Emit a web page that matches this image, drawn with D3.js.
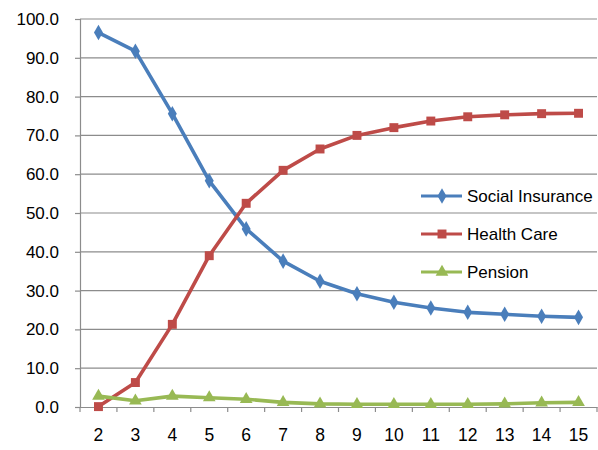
<!DOCTYPE html>
<html><head><meta charset="utf-8">
<script src="https://cdn.jsdelivr.net/npm/d3@7"></script>
<style>body{margin:0;background:#fff;} svg{display:block;}</style>
</head><body>
<svg id="c" width="598" height="450"></svg>
<script>
const categories = [2,3,4,5,6,7,8,9,10,11,12,13,14,15];
const socialInsurance = [96.5,91.7,75.6,58.3,45.9,37.6,32.4,29.2,27.0,25.5,24.4,23.9,23.4,23.1];
const healthCare = [0.1,6.3,21.3,39.0,52.5,61.0,66.5,70.0,72.0,73.7,74.8,75.3,75.6,75.7];
const pension = [2.8,1.6,2.8,2.4,2.0,1.2,0.8,0.7,0.7,0.7,0.7,0.8,1.1,1.2];
const yTicks = [0,10,20,30,40,50,60,70,80,90,100];
const seriesNames = ["Social Insurance","Health Care","Pension"];

const svg = d3.select("#c");
const L = 80, R = 597, T = 19, B = 407;
const x = d3.scaleBand().domain(categories).range([L, R]);
const y = d3.scaleLinear().domain([0,100]).range([B, T]);
const font = "Liberation Sans, Arial, sans-serif";

// gridlines
svg.append("g").selectAll("line").data(yTicks.filter(d=>d>0)).join("line")
  .attr("x1", L).attr("x2", R).attr("y1", d=>y(d)).attr("y2", d=>y(d))
  .attr("stroke", "#8c8c8c").attr("stroke-width", 1.2);

// y axis
const ya = svg.append("g").attr("transform", `translate(${L},0)`)
  .call(d3.axisLeft(y).tickValues(yTicks).tickFormat(d3.format(".1f")).tickSize(5).tickPadding(16));
ya.select(".domain").attr("stroke", "#8c8c8c").attr("stroke-width", 1.2);
ya.selectAll(".tick line").attr("stroke", "#8c8c8c").attr("stroke-width", 1.2);
ya.selectAll("text").attr("font-family", font).attr("font-size", 17).attr("fill", "#000");

// x axis
const xa = svg.append("g").attr("transform", `translate(0,${B})`)
  .call(d3.axisBottom(x).tickSize(0).tickPadding(22));
xa.select(".domain").attr("stroke", "#8c8c8c").attr("stroke-width", 1.2);
xa.selectAll("text").attr("font-family", font).attr("font-size", 17.5).attr("fill", "#000");
const bounds = categories.map(c => x(c)).concat([R]);
xa.selectAll(".bt").data(bounds).join("line").attr("class","bt")
  .attr("x1", d=>d).attr("x2", d=>d).attr("y1", 0).attr("y2", 5)
  .attr("stroke", "#8c8c8c").attr("stroke-width", 1.2);

const cx = c => x(c) + x.bandwidth()/2;
const series = [
  {name: seriesNames[0], values: socialInsurance, color: "#4a7ebb", sym: d3.symbolDiamond, size: 70},
  {name: seriesNames[1], values: healthCare, color: "#be4b48", sym: d3.symbolSquare, size: 80},
  {name: seriesNames[2], values: pension, color: "#98b954", sym: d3.symbolTriangle, size: 70}
];
const line = d3.line().x((d,i)=>cx(categories[i])).y(d=>y(d));

series.forEach(s => {
  svg.append("path").datum(s.values).attr("d", line)
    .attr("fill","none").attr("stroke", s.color).attr("stroke-width", 3.6).attr("stroke-linejoin","round");
  svg.append("g").selectAll("path").data(s.values).join("path")
    .attr("transform", (d,i)=>`translate(${cx(categories[i])},${y(d)})`)
    .attr("d", d3.symbol().type(s.sym).size(s.size)).attr("fill", s.color);
});

// legend
const lg = svg.append("g");
series.forEach((s,i) => {
  const ly = 196 + i*38;
  lg.append("line").attr("x1", 421).attr("x2", 462).attr("y1", ly).attr("y2", ly)
    .attr("stroke", s.color).attr("stroke-width", 3.2);
  lg.append("path").attr("transform", `translate(442,${ly})`)
    .attr("d", d3.symbol().type(s.sym).size(s.size)).attr("fill", s.color);
  lg.append("text").attr("x", 467).attr("y", ly).attr("dy", "0.35em")
    .attr("font-family", font).attr("font-size", 17).attr("fill", "#000").text(s.name);
});
</script>
</body></html>
